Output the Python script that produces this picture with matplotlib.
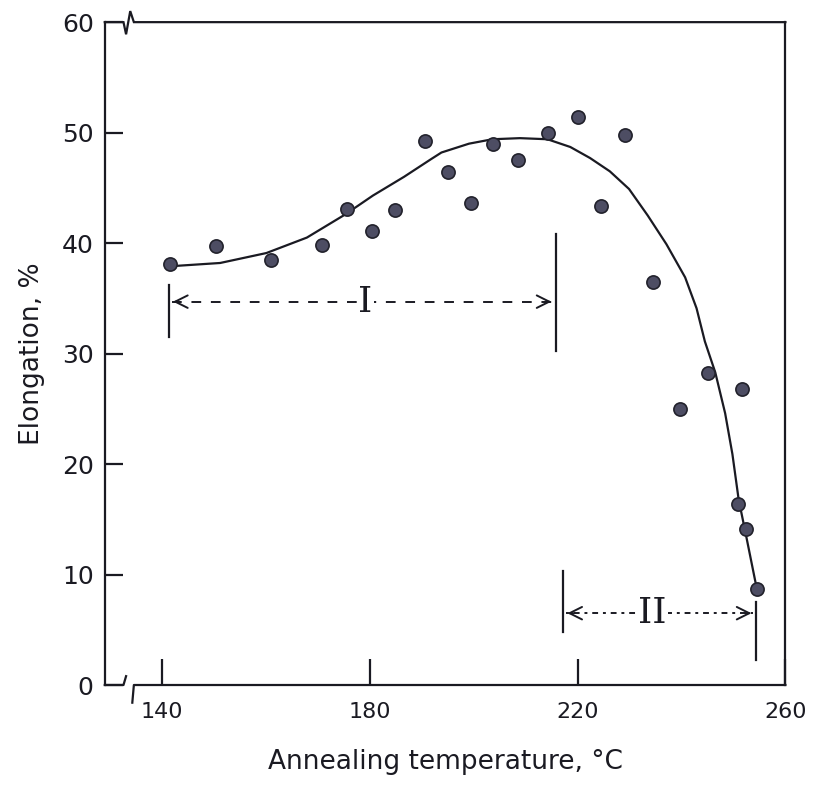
import matplotlib
matplotlib.use("Agg")
import matplotlib.pyplot as plt

# measured points (annealing temperature, elongation)
temp = [141.5, 150.5, 160.9, 170.8, 175.7, 180.4, 184.8, 190.7, 195.0, 199.5, 203.8, 208.5,
        214.4, 220.0, 224.5, 229.1, 234.5, 239.8, 245.1, 250.9, 251.7, 252.5, 254.5]
elong = [38.1, 39.7, 38.5, 39.8, 43.1, 41.1, 43.0, 49.2, 46.4, 43.6, 49.0, 47.5,
         50.0, 51.4, 43.4, 49.8, 36.5, 25.0, 28.2, 16.4, 26.8, 14.1, 8.7]

# hand drawn trend curve
curve_t = [141.5, 151.2, 160.1, 167.9, 175.3, 180.6, 186.6, 191.8, 193.8, 199.1, 203.6,
           208.9, 214.2, 218.6, 222.4, 226.2, 229.9, 233.5, 237.1, 240.7, 242.9, 244.5,
           246.5, 248.4, 249.8, 251.0, 252.4, 254.5]
curve_e = [37.9, 38.2, 39.1, 40.5, 42.6, 44.3, 46.0, 47.6, 48.2, 49.0, 49.4,
           49.5, 49.4, 48.7, 47.7, 46.5, 44.9, 42.5, 39.9, 36.9, 34.1, 31.1,
           28.3, 24.6, 20.9, 16.8, 13.6, 8.7]

# region markers: bars, arrow level and label position
region_I = dict(t0=141.3, t1=215.8, e=34.7, bar0=(31.5, 36.2), bar1=(30.2, 40.8), lab_t=179.2, lab="I")
region_II = dict(t0=217.2, t1=254.3, e=6.5, bar0=(4.8, 10.3), bar1=(2.3, 7.5), lab_t=234.4, lab="II")

x_ticks = [140, 180, 220, 260]
y_ticks = [0, 10, 20, 30, 40, 50, 60]

plt.rcParams['font.family'] = ['DejaVu Sans']

fig = plt.figure(figsize=(8.25, 7.91), dpi=100)
ax = fig.add_axes([0.127, 0.134, 0.825, 0.838])
ax.set_xlim(129, 260)
ax.set_ylim(0, 60)

ink = '#1a1a22'
lw = 1.6

# frame: top and bottom drawn by hand to show the breaks
ax.spines['top'].set_visible(False)
ax.spines['bottom'].set_visible(False)
for s in ['left', 'right']:
    ax.spines[s].set_linewidth(lw)
    ax.spines[s].set_color(ink)

ax.plot([129, 132.6, 133.1, 133.9, 134.6, 260], [60, 60, 58.9, 61.0, 60, 60],
        color=ink, lw=lw, clip_on=False, solid_joinstyle='miter')
ax.plot([129, 132.6, 133.1], [0, 0, 0.8], color=ink, lw=lw, clip_on=False)
ax.plot([134.3, 134.6, 260], [-1.6, 0, 0], color=ink, lw=lw, clip_on=False)

ax.set_xticks(x_ticks)
ax.set_yticks(y_ticks)
ax.tick_params(axis='y', direction='in', length=13, width=lw, color=ink,
               labelsize=18, labelcolor=ink, pad=8)
ax.tick_params(axis='x', direction='in', length=19, width=lw, color=ink,
               labelsize=16, labelcolor=ink, pad=12)

ax.set_xlabel('Annealing temperature, °C', fontsize=19, color=ink, labelpad=20)
ax.set_ylabel('Elongation, %', fontsize=19, color=ink, labelpad=12)

# trend curve and data
ax.plot(curve_t, curve_e, color=ink, lw=lw, zorder=3, solid_joinstyle='round')
ax.plot(temp, elong, 'o', ms=9.5, mfc='#4d4d63', mec='#22222c', mew=1.2, zorder=4)


def region(r, ls):
    ax.plot([r['t0'], r['t0']], r['bar0'], color=ink, lw=lw)
    ax.plot([r['t1'], r['t1']], r['bar1'], color=ink, lw=lw)
    ax.plot([r['t0'] + 0.6, r['t1'] - 0.6], [r['e'], r['e']], color=ink, lw=1.4, ls=ls)
    head = dict(arrowstyle='->,head_length=0.9,head_width=0.45', color=ink, lw=1.4)
    ax.annotate('', xy=(r['t0'] + 0.3, r['e']), xytext=(r['t0'] + 2.5, r['e']), arrowprops=head)
    ax.annotate('', xy=(r['t1'] - 0.3, r['e']), xytext=(r['t1'] - 2.5, r['e']), arrowprops=head)
    ax.text(r['lab_t'], r['e'], r['lab'], ha='center', va='center', fontsize=26,
            family='DejaVu Serif', color=ink, zorder=5,
            bbox=dict(facecolor='white', edgecolor='none', pad=1))


region(region_I, (0, (5, 5)))
region(region_II, (0, (1.5, 2.5, 3, 2.5)))

fig.savefig('out.png', dpi=100, facecolor='white')
